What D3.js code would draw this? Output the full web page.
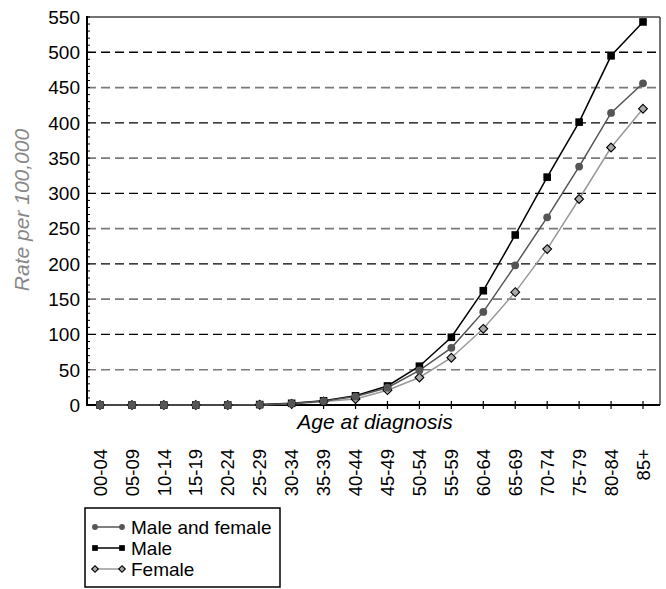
<!DOCTYPE html>
<html><head><meta charset="utf-8">
<script src="https://cdn.jsdelivr.net/npm/d3@7"></script>
<style>body{margin:0;background:#fff}text{font-family:"Liberation Sans",Arial,sans-serif}</style>
</head><body><svg id="c" width="666" height="589"></svg>
<script>
const categories = ["00-04","05-09","10-14","15-19","20-24","25-29","30-34","35-39","40-44","45-49","50-54","55-59","60-64","65-69","70-74","75-79","80-84","85+"];
const maleFemale = [0,0,0,0,0,0.5,2,5.5,12,24.5,49,81,132,198,266,338,414,456];
const male       = [0,0,0,0,0,0.6,2.4,6,13,27,55,96,162,241,323,401,495,543];
const female     = [0,0,0,0,0,0.4,1.5,5,8.5,21,39,67,108,160,221,292,365,420];
const yTicks = [0,50,100,150,200,250,300,350,400,450,500,550];
const seriesNames = ["Male and female","Male","Female"];

const svg = d3.select("#c");
const L=87, R=660, T=17, B=405;
const x = d3.scalePoint().domain(categories).range([100,643]);
const y = d3.scaleLinear().domain([0,550]).range([B,T]);

// gridlines
svg.append("g").selectAll("line").data(yTicks.filter(v=>v>0&&v<550)).join("line")
  .attr("x1",L).attr("x2",R).attr("y1",d=>y(d)).attr("y2",d=>y(d))
  .attr("stroke",d=>d%100===0?"#000":"#7a7a7a").attr("stroke-width",d=>d%100===0?1.3:1.7)
  .attr("stroke-dasharray","9,5");

// frame
svg.append("line").attr("x1",L).attr("x2",R).attr("y1",T).attr("y2",T).attr("stroke","#444").attr("stroke-width",1.5);
svg.append("line").attr("x1",R).attr("x2",R).attr("y1",T).attr("y2",B).attr("stroke","#444").attr("stroke-width",1.5);

// minor ticks y
svg.append("g").selectAll("line").data(d3.range(0,551,10)).join("line")
  .attr("x1",L).attr("x2",L+3).attr("y1",d=>y(d)).attr("y2",d=>y(d))
  .attr("stroke","#000").attr("stroke-width",1);

// axes lines
svg.append("line").attr("x1",L).attr("x2",L).attr("y1",T-1).attr("y2",B+1).attr("stroke","#000").attr("stroke-width",2);
svg.append("line").attr("x1",L-1).attr("x2",R).attr("y1",B).attr("y2",B).attr("stroke","#000").attr("stroke-width",2);

// x ticks
svg.append("g").selectAll("line").data(categories).join("line")
  .attr("x1",d=>x(d)).attr("x2",d=>x(d)).attr("y1",B-4).attr("y2",B+4)
  .attr("stroke","#000").attr("stroke-width",1.2);

// y tick labels
svg.append("g").selectAll("text").data(yTicks).join("text")
  .attr("x",80).attr("y",d=>y(d)).attr("dy","0.36em").attr("text-anchor","end")
  .attr("font-size",19).text(d=>d);

// x tick labels
svg.append("g").selectAll("text").data(categories).join("text")
  .attr("transform",d=>`translate(${x(d)},449) rotate(-90)`)
  .attr("dy","0.36em").attr("text-anchor","end").attr("font-size",18.5).text(d=>d);

// axis titles
svg.append("text").attr("x",375).attr("y",429).attr("text-anchor","middle")
  .attr("font-size",21).attr("font-style","italic").text("Age at diagnosis");
svg.append("text").attr("transform","translate(29,210) rotate(-90)").attr("text-anchor","middle")
  .attr("font-size",21).attr("font-style","italic").attr("fill","#888").text("Rate per 100,000");

const styles = [
  {name:seriesNames[0], data:maleFemale, line:"#555", shape:"circle", fill:"#555", stroke:"#555"},
  {name:seriesNames[1], data:male, line:"#000", shape:"square", fill:"#000", stroke:"#000"},
  {name:seriesNames[2], data:female, line:"#999", shape:"diamond", fill:"#aaa", stroke:"#000"}
];
function marker(g, s, cx, cy, k){
  if(s.shape==="circle") g.append("circle").attr("cx",cx).attr("cy",cy).attr("r",3.9*k).attr("fill",s.fill);
  else if(s.shape==="square") g.append("rect").attr("x",cx-3.8*k).attr("y",cy-3.8*k).attr("width",7.6*k).attr("height",7.6*k).attr("fill",s.fill);
  else g.append("path").attr("d",`M${cx},${cy-4.4*k}L${cx+4.4*k},${cy}L${cx},${cy+4.4*k}L${cx-4.4*k},${cy}Z`).attr("fill",s.fill).attr("stroke",s.stroke).attr("stroke-width",1.1);
}
const line = d3.line().x((d,i)=>x(categories[i])).y(d=>y(d));
const order=[2,1,0];
order.forEach(i=>{const s=styles[i];
  svg.append("path").attr("d",line(s.data)).attr("fill","none").attr("stroke",s.line).attr("stroke-width",1.5);
});
order.forEach(i=>{const s=styles[i]; const g=svg.append("g");
  s.data.forEach((v,j)=>marker(g,s,x(categories[j]),y(v),1));
});

// legend
const lg = svg.append("g");
lg.append("rect").attr("x",85).attr("y",508).attr("width",195).attr("height",79).attr("fill","#fff").attr("stroke","#000").attr("stroke-width",1.5);
const ly = d3.scalePoint().domain(seriesNames).range([527,569]);
styles.forEach(s=>{
  const yy=ly(s.name);
  lg.append("line").attr("x1",95).attr("x2",122).attr("y1",yy).attr("y2",yy).attr("stroke",s.line).attr("stroke-width",1.5);
  marker(lg,s,95,yy,0.75); marker(lg,s,122,yy,0.75);
  lg.append("text").attr("x",131).attr("y",yy).attr("dy","0.36em").attr("font-size",19).text(s.name);
});
</script></body></html>
